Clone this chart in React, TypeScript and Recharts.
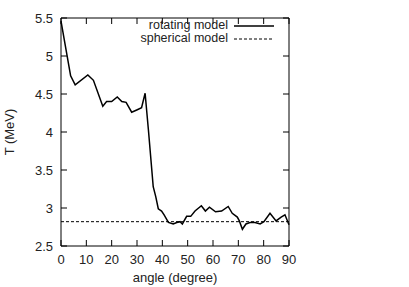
import React from 'react';
import { LineChart, Line, XAxis, YAxis, ReferenceArea, Label } from 'recharts';

// angle (degree) vs T (MeV)
const rotAngle = [0, 3.8, 5.6, 10.6, 12.8, 16.5, 18, 20, 22.2, 24, 25.7, 27.9, 29.9, 31.8, 33.2, 34.5, 36.4, 37.4, 38.4, 39.7, 40.7, 42.4, 44.3, 45.7, 47, 47.9, 49.6, 51.2, 52.9, 55.4, 57, 58.6, 61, 63.4, 66, 67.6, 69.6, 70.4, 71.6, 73, 74.6, 76.6, 78.6, 80.1, 82.5, 84.9, 86.9, 88.4, 90];
const rotT = [5.46, 4.74, 4.62, 4.75, 4.68, 4.34, 4.4, 4.4, 4.46, 4.4, 4.39, 4.26, 4.29, 4.32, 4.51, 4.03, 3.28, 3.15, 2.99, 2.96, 2.91, 2.81, 2.79, 2.81, 2.82, 2.79, 2.89, 2.89, 2.96, 3.03, 2.96, 3.01, 2.95, 2.96, 3.02, 2.93, 2.88, 2.83, 2.72, 2.79, 2.81, 2.81, 2.79, 2.82, 2.93, 2.83, 2.88, 2.91, 2.78];
const sphAngle = [0, 90];
const sphT = [2.82, 2.82];

const xTicks = [0, 10, 20, 30, 40, 50, 60, 70, 80, 90];
const yTicks = [2.5, 3, 3.5, 4, 4.5, 5, 5.5];

const rotating = rotAngle.map((a, i) => ({ angle: a, T: rotT[i] }));
const spherical = sphAngle.map((a, i) => ({ angle: a, T: sphT[i] }));

// plot box
const L = 61, R = 289, T = 18, B = 246;
const W = 409, H = 287;
const font = '"Liberation Sans", Arial, sans-serif';

const YTick = (props: any) => {
  const { x, y, payload } = props;
  return (
    <g>
      <text x={x} y={y} dy={4.5} textAnchor="end" fontSize={13} fill="#222" fontFamily={font}>{payload.value}</text>
      <line x1={L} x2={L + 6} y1={y} y2={y} stroke="#000" />
      <line x1={R} x2={R - 6} y1={y} y2={y} stroke="#000" />
    </g>
  );
};

const XTick = (props: any) => {
  const { x, y, payload } = props;
  return (
    <g>
      <text x={x} y={y} dy={9.5} textAnchor="middle" fontSize={13} fill="#222" fontFamily={font}>{payload.value}</text>
      <line x1={x} x2={x} y1={B} y2={B - 6} stroke="#000" />
      <line x1={x} x2={x} y1={T} y2={T + 6} stroke="#000" />
    </g>
  );
};

const legendRows = [
  { name: 'rotating model', dash: undefined },
  { name: 'spherical model', dash: '3 2' },
];

const LegendBox = () => (
  <div style={{ position: 'absolute', left: 100, top: 18.5, width: 176, fontFamily: font, fontSize: 12.5, color: '#222', lineHeight: '13.5px' }}>
    {legendRows.map((r) => (
      <div key={r.name} style={{ display: 'flex', alignItems: 'center', justifyContent: 'flex-end', height: 13.5 }}>
        <span>{r.name}</span>
        <svg width={48} height={13}>
          <line x1={6} x2={46} y1={7} y2={7} stroke="#000" strokeWidth={r.dash ? 1 : 1.3} strokeDasharray={r.dash} />
        </svg>
      </div>
    ))}
  </div>
);

export default function App() {
  return (
    <div style={{ position: 'absolute', left: 0, top: 0, width: W, height: H, background: '#fff' }}>
      <LineChart width={W} height={H} margin={{ top: T, right: W - R, bottom: 0, left: 0 }}>
        <XAxis
          type="number"
          dataKey="angle"
          domain={[0, 90]}
          ticks={xTicks}
          axisLine={false}
          tickLine={false}
          tickSize={0}
          tickMargin={8}
          height={H - B}
          tick={<XTick />}
          allowDuplicatedCategory={false}
        >
          <Label
            content={() => (
              <text x={(L + R) / 2} y={282} textAnchor="middle" fontSize={13} fill="#222" fontFamily={font}>angle (degree)</text>
            )}
          />
        </XAxis>
        <YAxis
          type="number"
          domain={[2.5, 5.5]}
          ticks={yTicks}
          axisLine={false}
          tickLine={false}
          tickSize={0}
          tickMargin={8}
          width={L}
          tick={<YTick />}
        >
          <Label
            content={() => (
              <text x={14} y={(T + B) / 2} textAnchor="middle" fontSize={13} fill="#222" fontFamily={font} transform={`rotate(-90 14 ${(T + B) / 2})`}>T (MeV)</text>
            )}
          />
        </YAxis>
        <ReferenceArea x1={0} x2={90} y1={2.5} y2={5.5} fill="none" stroke="#000" strokeWidth={1} ifOverflow="visible" />
        <Line data={spherical} dataKey="T" stroke="#000" strokeWidth={1} strokeDasharray="3 2" dot={false} isAnimationActive={false} />
        <Line data={rotating} dataKey="T" stroke="#000" strokeWidth={1.5} dot={false} isAnimationActive={false} />
      </LineChart>
      <LegendBox />
    </div>
  );
}
